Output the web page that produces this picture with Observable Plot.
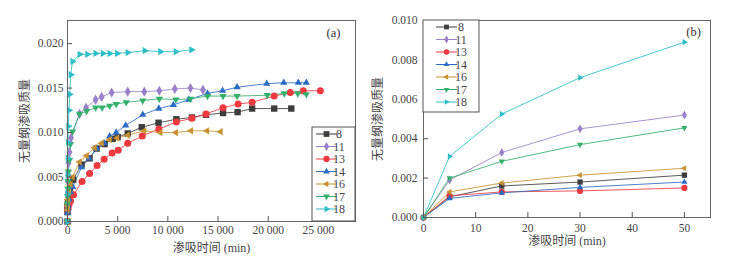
<!DOCTYPE html>
<html><head><meta charset="utf-8">
<script src="https://cdn.jsdelivr.net/npm/d3@7"></script>
<script src="https://cdn.jsdelivr.net/npm/@observablehq/plot@0.6"></script>
<style>
body{margin:0;background:#fff;}
#wrap{position:relative;width:736px;height:259px;overflow:hidden;}
.panel{position:absolute;top:0;}
#wrap svg, #wrap svg text{font-family:"Liberation Serif","Times New Roman","Noto Sans CJK SC",serif !important;}
</style></head><body><div id="wrap"></div>
<script>
// Data: [time (min), dimensionless imbibition mass]
const seriesNames = ["8","11","13","14","16","17","18"];
const s8 = [[0,0],[5,0.00105],[15,0.0016],[30,0.0018],[50,0.00215],[120,0.0030],[250,0.0038],[570,0.0047],[1400,0.0064],[2200,0.0071],[2900,0.0082],[3700,0.0087],[4500,0.0093],[5000,0.0095],[6000,0.0099],[7400,0.0106],[9070,0.0111],[10850,0.0115],[12400,0.0117],[13800,0.0120],[15500,0.0122],[16950,0.0123],[18400,0.0127],[20600,0.0127],[22300,0.0127]];
const s11 = [[0,0],[5,0.0019],[15,0.0033],[30,0.0045],[50,0.0052],[100,0.0066],[200,0.0078],[350,0.0094],[1200,0.0121],[1850,0.0128],[2800,0.0137],[3400,0.0140],[4400,0.0145],[6000,0.0146],[7650,0.0146],[9150,0.0147],[10700,0.0149],[12250,0.0150],[13500,0.0148]];
const s13 = [[0,0],[5,0.0011],[15,0.0013],[30,0.00135],[50,0.0015],[150,0.0019],[300,0.0023],[600,0.0030],[1450,0.0045],[2200,0.0054],[2950,0.0063],[3650,0.0070],[4450,0.0077],[5050,0.0080],[6000,0.0088],[7450,0.0096],[9100,0.0104],[10850,0.0112],[12400,0.0116],[13800,0.0121],[15500,0.0128],[17000,0.0132],[18400,0.0134],[20600,0.0141],[22200,0.0145],[23500,0.0147],[25200,0.0147]];
const s14 = [[0,0],[5,0.00097],[15,0.00125],[30,0.00153],[50,0.0018],[150,0.0025],[300,0.0033],[520,0.0039],[1400,0.0061],[2150,0.0071],[2900,0.0082],[3650,0.0088],[4200,0.0096],[4850,0.0100],[5800,0.0108],[7500,0.0120],[9100,0.0127],[10550,0.0131],[12100,0.0137],[13950,0.0144],[15450,0.0147],[16900,0.0151],[19850,0.0155],[21550,0.0156],[23000,0.0156],[23800,0.0156]];
const s16 = [[0,0],[5,0.0013],[15,0.00175],[30,0.00215],[50,0.0025],[150,0.0033],[300,0.0042],[500,0.0050],[1200,0.0067],[1900,0.0074],[2700,0.0083],[3400,0.0088],[4200,0.0092],[4950,0.0094],[6000,0.0097],[7650,0.0102],[9250,0.0100],[10800,0.0100],[12300,0.0102],[13900,0.0102],[15250,0.0101]];
const s17 = [[0,0],[5,0.0020],[15,0.00285],[30,0.0037],[50,0.00455],[100,0.0056],[200,0.0069],[300,0.0087],[500,0.0101],[1200,0.0121],[1900,0.0124],[2800,0.0128],[3450,0.0128],[4200,0.0130],[4850,0.0132],[5850,0.0134],[7500,0.0136],[9150,0.0138],[10800,0.0137],[12250,0.0138],[13950,0.0141],[15500,0.0141],[16900,0.0141],[19900,0.0142],[21600,0.0144],[22950,0.0144],[23800,0.0143]];
const s18 = [[0,0],[5,0.0031],[15,0.00525],[30,0.0071],[50,0.0089],[90,0.0107],[150,0.0125],[220,0.0143],[320,0.0165],[500,0.0180],[1220,0.0188],[1980,0.0188],[2800,0.0189],[3530,0.0189],[4200,0.0189],[4950,0.0189],[6000,0.0190],[7700,0.0192],[9250,0.0191],[10800,0.0191],[12350,0.0193]];
const seriesData = [s8, s11, s13, s14, s16, s17, s18];
const colors = ["#3d3d3d","#9a80c9","#ee3a3e","#2a6cc3","#c9922e","#33b06c","#2cbfc6"];
const symbols = ["square","diamond","circle","triangle","triangle","triangle","triangle"];
const rotations = [0,0,0,0,-90,180,90];

const xTicksA = [0,5000,10000,15000,20000,25000];
const xTickLabelsA = ["0","5 000","10 000","15 000","20 000","25 000"];
const yTicksA = [0,0.005,0.010,0.015,0.020];
const yTickLabelsA = ["0.000","0.005","0.010","0.015","0.020"];
const xTicksB = [0,10,20,30,40,50];
const xTickLabelsB = ["0","10","20","30","40","50"];
const yTicksB = [0,0.002,0.004,0.006,0.008,0.010];
const yTickLabelsB = ["0.000","0.002","0.004","0.006","0.008","0.010"];
const xLabel = "渗吸时间 (min)";
const yLabel = "无量纲渗吸质量";

const FONT = '"Liberation Serif","Times New Roman","Noto Sans CJK SC",serif';
const TXT = "#444";

function panel(cfg) {
  const innerW = cfg.width - cfg.ml - cfg.mr;
  const innerH = cfg.height - cfg.mt - cfg.mb;
  const marks = [];
  seriesData.forEach((d, i) => {
    const data = d.filter(p => p[0] <= cfg.xmax);
    marks.push(Plot.line(data, {x: p => p[0], y: p => p[1], stroke: colors[i], strokeWidth: 1, strokeOpacity: 0.85}));
  });
  seriesData.forEach((d, i) => {
    const data = d.filter(p => p[0] <= cfg.xmax);
    marks.push(Plot.dot(data, {x: p => p[0], y: p => p[1], symbol: symbols[i], fill: colors[i], r: cfg.sizes[symbols[i]], rotate: rotations[i]}));
  });
  marks.push(
    Plot.frame({stroke: "#666", strokeWidth: 1}),
    Plot.tickX(cfg.xt, {x: d => d, insetTop: innerH - 5, stroke: "#555"}),
    Plot.tickY(cfg.yt, {y: d => d, insetRight: innerW - 5, stroke: "#555"}),
    Plot.axisX(cfg.xt, {tickSize: 0, tickPadding: cfg.xpad, tickFormat: d => cfg.xl[cfg.xt.indexOf(d)], fontSize: 11.5, fill: TXT, label: null}),
    Plot.axisY(cfg.yt, {tickSize: 0, tickPadding: cfg.ypad, tickFormat: d => cfg.yl[cfg.yt.indexOf(d)], fontSize: 11.5, fill: TXT, label: null}),
    Plot.text([xLabel], {frameAnchor: "bottom", dy: cfg.xlabDy, text: d => d, fontSize: 12, fill: TXT, textAnchor: "middle", lineAnchor: "middle"}),
    Plot.text([yLabel], {frameAnchor: "left", dx: cfg.ylabDx, text: d => d, fontSize: 12, fill: TXT, rotate: -90, textAnchor: "middle", lineAnchor: "middle"}),
    Plot.text([cfg.tag], {frameAnchor: "top-right", dx: cfg.tagDx, dy: cfg.tagDy, text: d => d, fontSize: 12.5, fill: "#333", textAnchor: "middle", lineAnchor: "middle"})
  );
  const svg = Plot.plot({
    width: cfg.width, height: cfg.height,
    marginLeft: cfg.ml, marginRight: cfg.mr, marginTop: cfg.mt, marginBottom: cfg.mb,
    style: {fontFamily: FONT, background: "white", overflow: "visible"},
    x: {domain: cfg.xd},
    y: {domain: cfg.yd},
    marks
  });
  // legend box
  const g = d3.select(svg).append("g").attr("font-family", FONT).attr("font-size", 12);
  const L = cfg.legend;
  g.append("rect").attr("x", L.x).attr("y", L.y).attr("width", L.w).attr("height", L.h)
    .attr("fill", "white").attr("stroke", "#555").attr("stroke-width", 1);
  seriesNames.forEach((name, i) => {
    const yy = L.y0 + i * L.dy;
    g.append("line").attr("x1", L.lx1).attr("x2", L.lx2).attr("y1", yy).attr("y2", yy)
      .attr("stroke", colors[i]).attr("stroke-width", 1);
    const sym = {square: d3.symbolSquare, diamond: d3.symbolDiamond, circle: d3.symbolCircle, triangle: d3.symbolTriangle}[symbols[i]];
    const rr = cfg.sizes[symbols[i]] * 0.9;
    g.append("path").attr("d", d3.symbol(sym, Math.PI * rr * rr)())
      .attr("transform", `translate(${(L.lx1 + L.lx2) / 2},${yy}) rotate(${rotations[i]})`)
      .attr("fill", colors[i]);
    g.append("text").attr("x", L.tx).attr("y", yy).attr("dy", "0.35em").attr("fill", TXT).text(name);
  });
  return svg;
}

const wrap = document.getElementById("wrap");
const a = panel({
  width: 370, height: 259, ml: 67, mr: 15, mt: 20, mb: 38,
  xd: [0, 28700], yd: [0, 0.0226], xmax: Infinity,
  xt: xTicksA, xl: xTickLabelsA, yt: yTicksA, yl: yTickLabelsA,
  xpad: 4, ypad: 4, xlabDy: 27, ylabDx: -42, tag: "(a)", tagDx: -22, tagDy: 12,
  sizes: {square: 3.6, diamond: 3.1, circle: 3.5, triangle: 2.7},
  legend: {x: 312, y: 127, w: 43, h: 94, y0: 134, dy: 12.5, lx1: 316, lx2: 337, tx: 339}
});
a.classList.add("panel"); a.style.left = "0px";
wrap.appendChild(a);
const b = panel({
  width: 366, height: 259, ml: 53, mr: 26, mt: 20, mb: 42,
  xd: [0, 55], yd: [0, 0.010], xmax: 50,
  xt: xTicksB, xl: xTickLabelsB, yt: yTicksB, yl: yTickLabelsB,
  xpad: 6, ypad: 6, xlabDy: 24, ylabDx: -45, tag: "(b)", tagDx: -17, tagDy: 11,
  sizes: {square: 3.0, diamond: 2.7, circle: 3.1, triangle: 2.3},
  legend: {x: 53, y: 20, w: 56, h: 92, y0: 27, dy: 12.5, lx1: 66, lx2: 87, tx: 91}
});
b.classList.add("panel"); b.style.left = "370px";
wrap.appendChild(b);
</script></body></html>
